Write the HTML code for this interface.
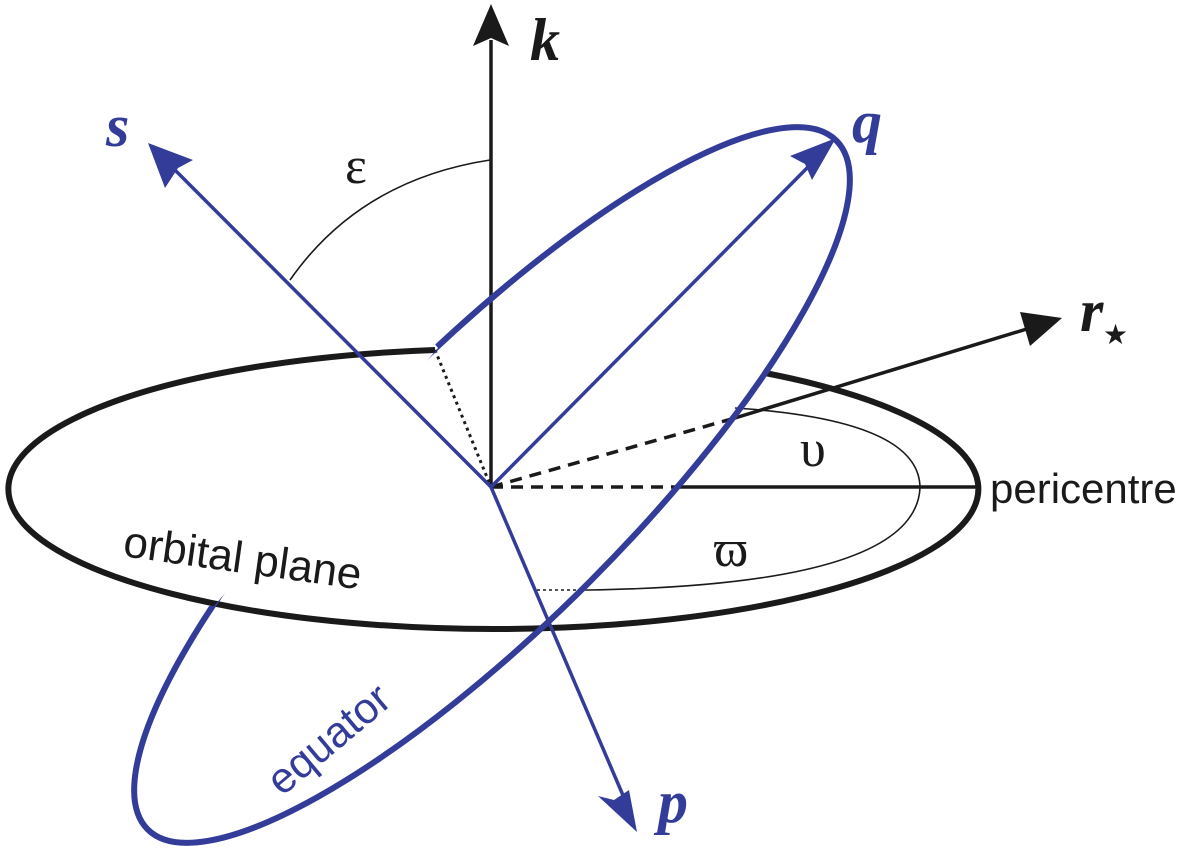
<!DOCTYPE html>
<html><head><meta charset="utf-8"><style>
html,body{margin:0;padding:0;background:#fff;overflow:hidden;width:1200px;height:852px}
svg{display:block}
</style></head><body>
<svg width="1200" height="852" viewBox="0 0 1200 852" xmlns="http://www.w3.org/2000/svg">
<defs>
<clipPath id="eqc">
<path clip-rule="evenodd" d="M0,0 H1200 V852 H0 Z M438,348 L320,200 L0,300 L0,606 L214,606 Z"/>
</clipPath>
</defs>
<!-- orbital plane -->
<path d="M765,373 A485,140 0 1 1 435,350" fill="none" stroke="#1a1a1a" stroke-width="6"/>
<!-- thin angle arcs -->
<path d="M735,408 Q920,420 920,488 Q915,585 588,590" fill="none" stroke="#1a1a1a" stroke-width="1.6"/>
<line x1="537" y1="590" x2="588" y2="590" stroke="#1a1a1a" stroke-width="1.5" stroke-dasharray="3,3"/>
<path d="M290,280 Q360,180 490,160" fill="none" stroke="#1a1a1a" stroke-width="1.6"/>
<!-- dotted/dashed -->
<line x1="435" y1="350" x2="491" y2="487" stroke="#1a1a1a" stroke-width="3" stroke-dasharray="3,4"/>
<line x1="491" y1="487" x2="680" y2="487" stroke="#1a1a1a" stroke-width="3.5" stroke-dasharray="12,8"/>
<line x1="680" y1="487" x2="976" y2="487" stroke="#1a1a1a" stroke-width="3.5"/>
<line x1="491" y1="487" x2="735" y2="418" stroke="#1a1a1a" stroke-width="3.5" stroke-dasharray="12,8"/>
<line x1="735" y1="418" x2="1030" y2="328" stroke="#1a1a1a" stroke-width="3.5"/>
<polygon points="1062,318 1020,312 1030,346" fill="#1a1a1a"/>
<!-- k -->
<line x1="491" y1="487" x2="491" y2="40" stroke="#1a1a1a" stroke-width="3.5"/>
<polygon points="491,4 473,46 491,38 509,46" fill="#1a1a1a"/>
<!-- equator -->
<g clip-path="url(#eqc)">
<ellipse cx="492" cy="485" rx="487" ry="137.5" transform="rotate(-45 492 485)" fill="none" stroke="#333c99" stroke-width="6"/>
</g>
<!-- s -->
<line x1="491" y1="487" x2="175" y2="170" stroke="#333c99" stroke-width="3.5"/>
<polygon points="148,143 193,160 178,168 165,188" fill="#333c99"/>
<!-- q -->
<line x1="491" y1="487" x2="810" y2="165" stroke="#333c99" stroke-width="3.5"/>
<polygon points="836,138 790,156 805,164 812,180" fill="#333c99"/>
<!-- p -->
<line x1="491" y1="487" x2="625" y2="800" stroke="#333c99" stroke-width="3.5"/>
<polygon points="637,832 598,796 614,800 629,790" fill="#333c99"/>
<!-- labels -->
<g font-family="Liberation Serif, serif" font-style="italic" font-weight="bold" font-size="60">
<text x="530" y="60" fill="#1a1a1a">k</text>
<text x="106" y="146" fill="#333c99">s</text>
<text x="852" y="142" fill="#333c99">q</text>
<text x="658" y="822" fill="#333c99">p</text>
<text x="1080" y="331" fill="#1a1a1a">r</text>
</g>
<text x="1103" y="344" font-size="28" fill="#1a1a1a" font-family="DejaVu Sans, sans-serif">★</text>
<g font-family="Liberation Serif, DejaVu Serif, serif" font-size="52" fill="#1a1a1a">
<text x="345" y="183">ε</text>
<text x="800" y="466">υ</text>
<text x="714" y="566">ϖ</text>
</g>
<text x="990" y="503" font-family="Liberation Sans, sans-serif" font-size="42" fill="#1a1a1a">pericentre</text>
<text transform="translate(122,556) rotate(8)" font-family="Liberation Sans, sans-serif" font-size="44" fill="#1a1a1a">orbital plane</text>
<text transform="translate(282,797) rotate(-40)" font-family="Liberation Sans, sans-serif" font-size="43" fill="#333c99">equator</text>
</svg>
</body></html>
